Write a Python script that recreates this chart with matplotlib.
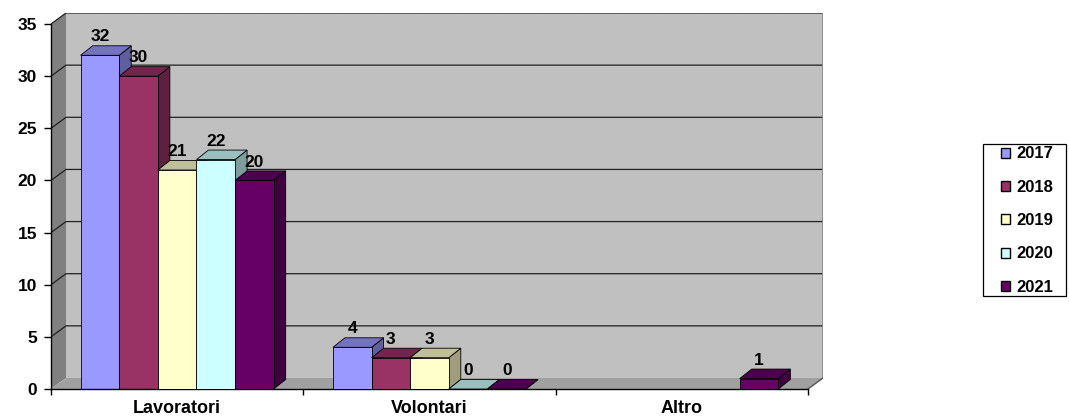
import numpy as np
import matplotlib
matplotlib.use("Agg")
import matplotlib.pyplot as plt
from matplotlib.patches import Polygon, Patch, Rectangle

plt.rcParams['font.family'] = ['Liberation Sans', 'DejaVu Sans']
plt.rcParams['font.weight'] = 'bold'

categories = ['Lavoratori', 'Volontari', 'Altro']
years = ['2017', '2018', '2019', '2020', '2021']
v2017 = [32, 4, np.nan]
v2018 = [30, 3, np.nan]
v2019 = [21, 3, np.nan]
v2020 = [22, 0, np.nan]
v2021 = [20, 0, 1]
series = [v2017, v2018, v2019, v2020, v2021]
colors = ['#9999FF', '#993366', '#FFFFCC', '#CCFFFF', '#660066']

W, H = 1069, 419
fig = plt.figure(figsize=(W / 100, H / 100), dpi=100)

# pixel scale helpers
px_x = 252.3     # px per category
px_y = 365 / 35  # px per unit
wdx, wdy = 15 / px_x, 11 / px_y   # wall depth
bdx, bdy = 12 / px_x, 9.5 / px_y  # bar depth
ymax = 35

ax = fig.add_axes([51 / W, 30 / H, 772 / W, 376 / H])
ax.set_xlim(-0.5, 2.5 + wdx)
ax.set_ylim(0, ymax + wdy)
ax.patch.set_visible(False)


def shade(c, f):
    r, g, b = matplotlib.colors.to_rgb(c)
    return (r * f, g * f, b * f)


# walls and floor
ax.add_patch(Polygon([(-0.5 + wdx, wdy), (2.5 + wdx, wdy), (2.5 + wdx, ymax + wdy),
                      (-0.5 + wdx, ymax + wdy)], closed=True, fc='#C0C0C0', ec='none', zorder=0))
ax.add_patch(Polygon([(-0.5, 0), (-0.5 + wdx, wdy), (-0.5 + wdx, ymax + wdy), (-0.5, ymax)],
                     closed=True, fc='#808080', ec='none', zorder=0))
ax.add_patch(Polygon([(-0.5, 0), (2.5, 0), (2.5 + wdx, wdy), (-0.5 + wdx, wdy)],
                     closed=True, fc='#A0A0A0', ec='none', zorder=0.5))
for v in range(5, ymax + 1, 5):
    ax.plot([-0.5, -0.5 + wdx, 2.5 + wdx], [v, v + wdy, v + wdy], color='#202020', lw=0.9, zorder=0.6)
ax.plot([2.5 + wdx, 2.5 + wdx], [wdy, ymax + wdy], color='#888888', lw=1.2, zorder=0.6)
ax.plot([2.5, 2.5 + wdx], [0, wdy], color='#555555', lw=1, zorder=0.6)
ax.plot([-0.5 + wdx, 2.5 + wdx], [ymax + wdy, ymax + wdy], color='#606060', lw=1.2, ls=(0, (1, 1)), zorder=0.6)

# bars
bw = 0.153
group = bw * len(series)
z = 1
for j in range(len(categories)):
    for i, vals in enumerate(series):
        v = vals[j]
        if np.isnan(v):
            continue
        x0 = j - group / 2 + i * bw
        c = colors[i]
        front = Polygon([(x0, 0), (x0 + bw, 0), (x0 + bw, v), (x0, v)], closed=True,
                        fc=c, ec='black', lw=0.6, zorder=z)
        top = Polygon([(x0, v), (x0 + bdx, v + bdy), (x0 + bw + bdx, v + bdy), (x0 + bw, v)],
                      closed=True, fc=shade(c, 0.75), ec='black', lw=0.6, zorder=z)
        side = Polygon([(x0 + bw, 0), (x0 + bw + bdx, bdy), (x0 + bw + bdx, v + bdy), (x0 + bw, v)],
                       closed=True, fc=shade(c, 0.62), ec='black', lw=0.6, zorder=z)
        ax.add_patch(side)
        ax.add_patch(top)
        if v > 0:
            ax.add_patch(front)
        ax.annotate(f'{int(v)}', (x0 + bw / 2, v + bdy), xytext=(0, 1), textcoords='offset points',
                    ha='center', va='bottom', fontsize=12.5, fontweight='bold', zorder=20)
        z += 1

# axes
for s in ['top', 'right']:
    ax.spines[s].set_visible(False)
ax.spines['left'].set_bounds(0, ymax)
ax.spines['bottom'].set_bounds(-0.5, 2.5)
ax.spines['left'].set_linewidth(1)
ax.spines['bottom'].set_linewidth(1)
ax.set_yticks(range(0, ymax + 1, 5))
ax.tick_params(axis='y', length=5, width=1, pad=5, labelsize=12.5)
ax.set_xticks(range(len(categories)))
ax.set_xticklabels(categories)
ax.set_xticks([-0.5, 0.5, 1.5, 2.5], minor=True)
ax.tick_params(axis='x', which='major', length=0, pad=8, labelsize=13)
ax.tick_params(axis='x', which='minor', length=4, width=1)
for lab in ax.get_xticklabels() + ax.get_yticklabels():
    lab.set_fontweight('bold')

# legend: box drawn separately, entries without frame
fig.patches.append(Rectangle((983 / W, 1 - 296 / H), 83 / W, 152 / H, transform=fig.transFigure,
                             fc='white', ec='black', lw=0.9, zorder=5))
handles = [Patch(fc=c, ec='black', lw=1) for c in colors]
leg = fig.legend(handles, years, loc='upper left', bbox_to_anchor=(1001 / W, 1 - 146.5 / H),
                 borderaxespad=0, borderpad=0, frameon=False,
                 handlelength=0.55, handleheight=0.55, handletextpad=0.35, labelspacing=1.1,
                 prop={'weight': 'bold', 'size': 12})
leg.set_zorder(6)

fig.savefig('out.png', dpi=100)
